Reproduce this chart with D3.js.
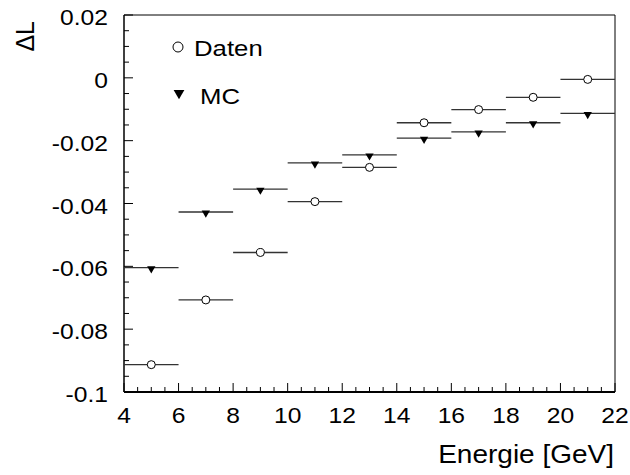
<!DOCTYPE html>
<html>
<head>
<meta charset="utf-8">
<script src="https://cdn.jsdelivr.net/npm/d3@7"></script>
<style>
  body { margin: 0; background: #fff; }
  svg { font-family: "Liberation Sans", Arial, sans-serif; }
</style>
</head>
<body>
<svg id="chart" width="630" height="475"></svg>
<script>
// energy bin centres (GeV), bins are 2 GeV wide
const energy = [5, 7, 9, 11, 13, 15, 17, 19, 21];
const daten = [-0.0913, -0.0707, -0.0556, -0.0394, -0.0285, -0.0143, -0.0101, -0.0062, -0.0005];
const mc = [-0.0604, -0.0427, -0.0354, -0.0271, -0.0245, -0.0192, -0.0172, -0.0143, -0.0113];
const xTicks = [4, 6, 8, 10, 12, 14, 16, 18, 20, 22];
const yTicks = [-0.1, -0.08, -0.06, -0.04, -0.02, 0, 0.02];
const binHalf = 1;

const width = 630, height = 475;
const margin = { top: 15, right: 15, bottom: 83, left: 124 };
const stretch = 1.12; // the original font is a bit wider than Liberation

const svg = d3.select("#chart");

const x = d3.scaleLinear().domain([4, 22]).range([margin.left, width - margin.right]);
const y = d3.scaleLinear().domain([-0.1, 0.02]).range([height - margin.bottom, margin.top]);

// frame (top and right)
svg.append("path")
    .attr("d", `M${x(4)},${y(0.02)}H${x(22)}V${y(-0.1)}`)
    .attr("fill", "none")
    .attr("stroke", "#000")
    .attr("stroke-width", 1);

// ticks, major every 2 GeV / 0.02, minor in between
const xMinor = d3.range(4, 22.01, 0.5);
const yMinor = d3.range(-0.1, 0.0201, 0.005);

svg.append("g").selectAll("line")
  .data(xMinor)
  .join("line")
    .attr("x1", d => x(d)).attr("x2", d => x(d))
    .attr("y1", y(-0.1))
    .attr("y2", d => y(-0.1) - (Math.abs(d % 2) < 1e-6 ? 9 : 5))
    .attr("stroke", "#000");

svg.append("g").selectAll("line")
  .data(yMinor)
  .join("line")
    .attr("y1", d => y(d)).attr("y2", d => y(d))
    .attr("x1", x(4))
    .attr("x2", d => x(4) + (Math.abs(Math.round(d * 1000) % 20) === 0 ? 9 : 5))
    .attr("stroke", "#000");

// axis lines
svg.append("line")
    .attr("x1", x(4)).attr("x2", x(22))
    .attr("y1", y(-0.1)).attr("y2", y(-0.1))
    .attr("stroke", "#000").attr("stroke-width", 2);
svg.append("line")
    .attr("x1", x(4)).attr("x2", x(4))
    .attr("y1", y(-0.1)).attr("y2", y(0.02))
    .attr("stroke", "#000").attr("stroke-width", 1.5);

// helper: text with horizontal stretch
function label(g, tx, ty, str, size, anchor) {
  return g.append("text")
      .attr("transform", `translate(${tx},${ty}) scale(${stretch},1)`)
      .attr("text-anchor", anchor)
      .attr("font-size", size)
      .text(str);
}

const xLab = svg.append("g");
xTicks.forEach(d => label(xLab, x(d), y(-0.1) + 31, d, 22, "middle"));

const yLab = svg.append("g");
yTicks.forEach(d => label(yLab, x(4) - 16, y(d) + 10, d, 22, "end"));

// axis titles
label(svg, x(22) - 1, 463, "Energie [GeV]", 25, "end");

svg.append("text")
    .attr("transform", `translate(34,21) rotate(-90)`)
    .attr("text-anchor", "end")
    .attr("font-size", 25)
    .text("ΔL");

// bin-width bars
function drawBars(vals) {
  svg.append("g").selectAll("line")
    .data(vals)
    .join("line")
      .attr("x1", (d, i) => x(energy[i] - binHalf))
      .attr("x2", (d, i) => x(energy[i] + binHalf))
      .attr("y1", d => y(d)).attr("y2", d => y(d))
      .attr("stroke", "#333")
      .attr("stroke-width", 1.3);
}
drawBars(mc);
drawBars(daten);

const tri = d3.symbol().type(d3.symbolTriangle).size(30);

svg.append("g").selectAll("path")
  .data(mc)
  .join("path")
    .attr("d", tri)
    .attr("transform", (d, i) => `translate(${x(energy[i])},${y(d) + 1}) rotate(180)`)
    .attr("fill", "#000");

svg.append("g").selectAll("circle")
  .data(daten)
  .join("circle")
    .attr("cx", (d, i) => x(energy[i]))
    .attr("cy", d => y(d))
    .attr("r", 4)
    .attr("fill", "#fff")
    .attr("stroke", "#000")
    .attr("stroke-width", 1);

// legend
const legend = svg.append("g");
legend.append("circle")
    .attr("cx", 178).attr("cy", 47).attr("r", 5)
    .attr("fill", "#fff").attr("stroke", "#000");
label(legend, 194, 56, "Daten", 23, "start");
legend.append("path")
    .attr("d", d3.symbol().type(d3.symbolTriangle).size(50))
    .attr("transform", "translate(179,93) rotate(180)")
    .attr("fill", "#000");
label(legend, 200, 104, "MC", 23, "start");
</script>
</body>
</html>
